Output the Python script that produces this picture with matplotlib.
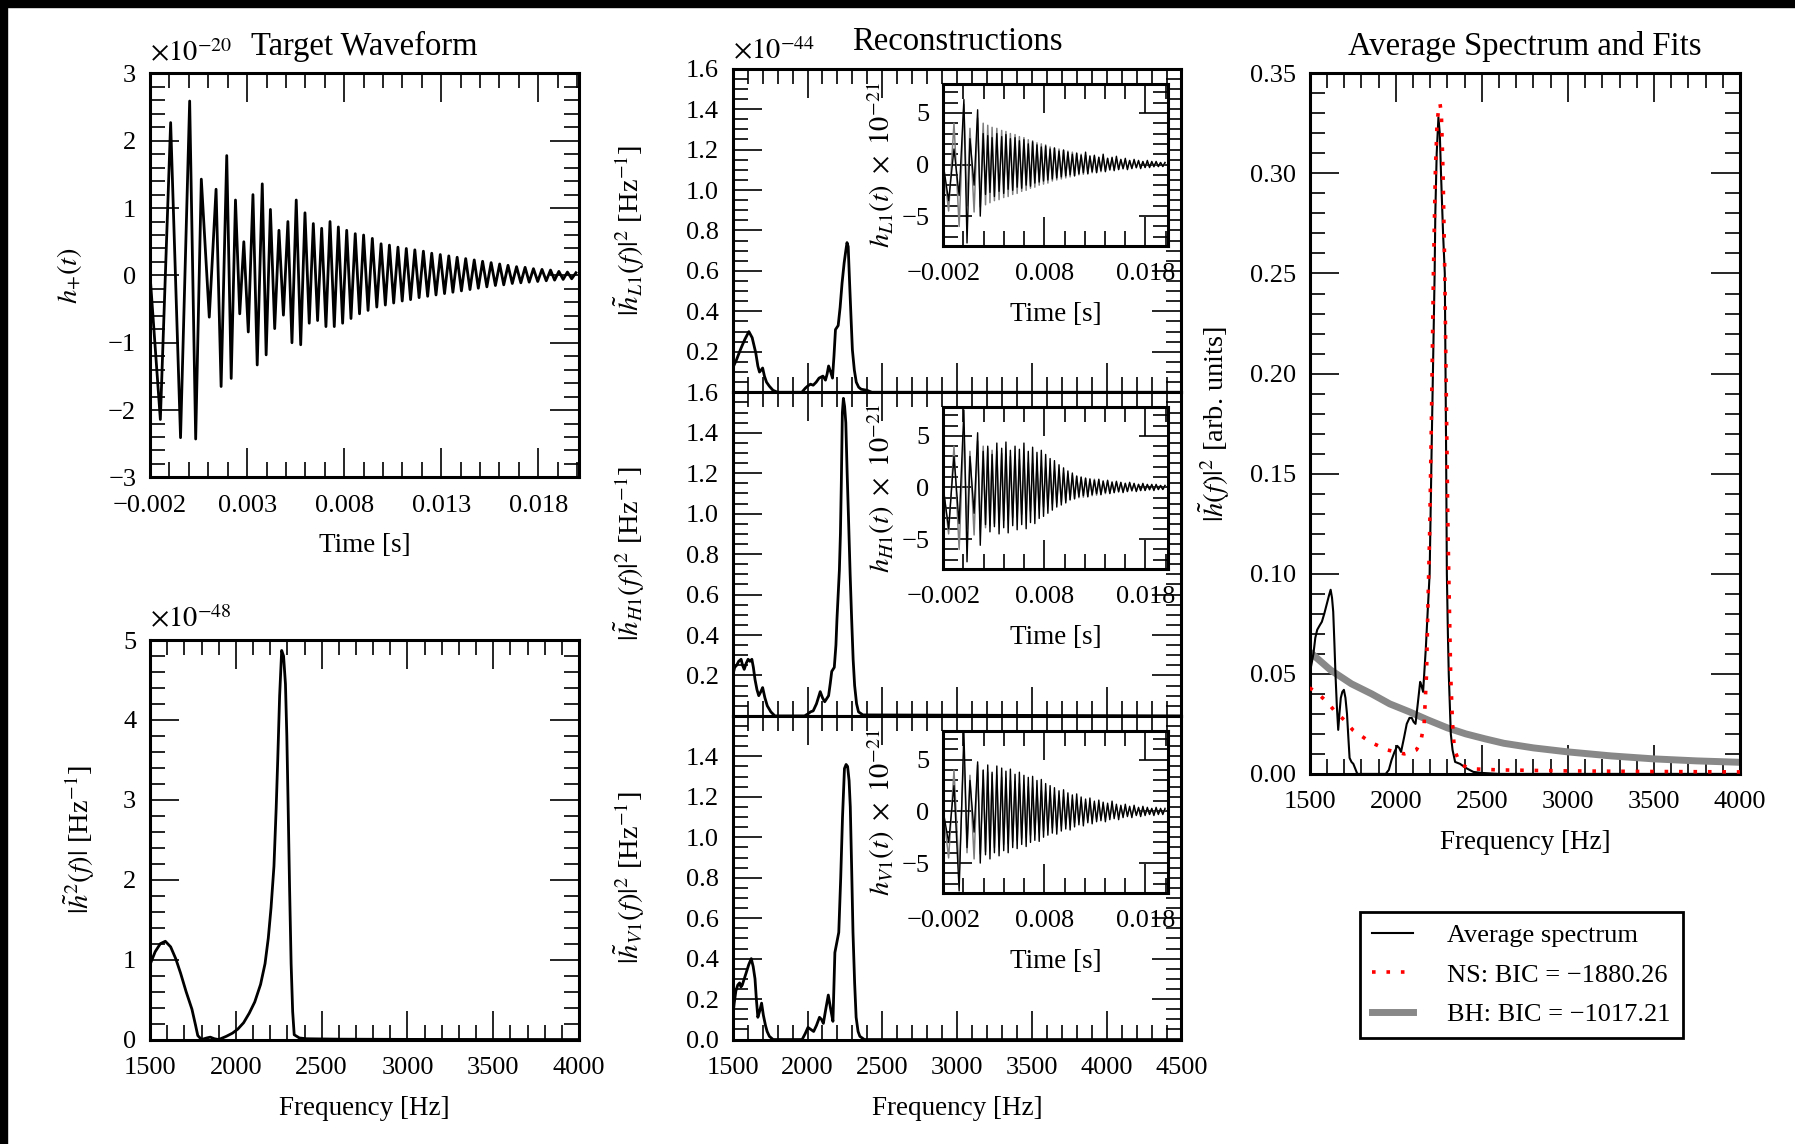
import numpy as np
import matplotlib
matplotlib.use("Agg")
import matplotlib.pyplot as plt
from matplotlib.ticker import MultipleLocator, FixedLocator, FuncFormatter
from matplotlib.patches import Rectangle
from matplotlib.lines import Line2D

plt.rcParams["font.family"] = "serif"
plt.rcParams["font.serif"] = ["Liberation Serif", "DejaVu Serif"]
plt.rcParams["mathtext.fontset"] = "stix"

# ---------------- data ----------------
# target waveform h+(t), units of 1e-20, given by its extrema
t_edge = [-0.0020]
h_edge = [0.0]
t_pk = [-0.00094, 0.00004, 0.00064, 0.00140, 0.00195, 0.00240, 0.00283, 0.00330, 0.00378, 0.00420,
        0.00464, 0.00510, 0.00553, 0.00598, 0.00641, 0.00684, 0.00727, 0.00770, 0.00813, 0.00857,
        0.00900, 0.00945, 0.00990, 0.01033, 0.01077, 0.01120, 0.01164, 0.01208, 0.01251, 0.01295,
        0.01339, 0.01382, 0.01426, 0.01470, 0.01513, 0.01557, 0.01601, 0.01644, 0.01688, 0.01732,
        0.01775, 0.01819, 0.01863, 0.01906, 0.01950, 0.01994]
a_pk = [2.27, 2.59, 1.43, 1.28, 1.78, 1.12, 0.50, 1.20, 1.36, 0.98,
        0.67, 0.80, 1.12, 0.93, 0.77, 0.70, 0.80, 0.72, 0.67, 0.62,
        0.60, 0.55, 0.47, 0.45, 0.42, 0.40, 0.38, 0.36, 0.33, 0.31,
        0.29, 0.27, 0.25, 0.23, 0.21, 0.19, 0.17, 0.15, 0.13, 0.12,
        0.10, 0.09, 0.08, 0.06, 0.05, 0.04]
t_tr = [-0.00147, -0.00043, 0.00035, 0.00105, 0.00166, 0.00218, 0.00262, 0.00306, 0.00352, 0.00398,
        0.00442, 0.00487, 0.00531, 0.00576, 0.00620, 0.00663, 0.00706, 0.00749, 0.00792, 0.00835,
        0.00879, 0.00923, 0.00968, 0.01012, 0.01055, 0.01099, 0.01142, 0.01186, 0.01230, 0.01273,
        0.01317, 0.01360, 0.01404, 0.01448, 0.01491, 0.01535, 0.01579, 0.01622, 0.01666, 0.01710,
        0.01753, 0.01797, 0.01841, 0.01884, 0.01928, 0.01972]
a_tr = [-2.14, -2.41, -2.43, -0.62, -1.65, -1.53, -0.57, -0.84, -1.33, -1.18,
        -0.79, -0.59, -1.00, -1.03, -0.71, -0.67, -0.76, -0.76, -0.71, -0.64,
        -0.57, -0.52, -0.47, -0.44, -0.41, -0.38, -0.36, -0.33, -0.31, -0.29,
        -0.27, -0.25, -0.23, -0.21, -0.19, -0.17, -0.15, -0.14, -0.12, -0.11,
        -0.10, -0.09, -0.08, -0.07, -0.06, -0.05]

# target spectrum, units of 1e-48
f_tgt = [1500, 1530, 1560, 1589, 1620, 1650, 1678, 1710, 1744, 1765, 1778, 1800, 1830, 1851, 1875,
         1900, 1944, 1980, 2011, 2045, 2078, 2110, 2144, 2170, 2189, 2205, 2222, 2235, 2244, 2255,
         2267, 2278, 2289, 2297, 2304, 2313, 2322, 2331, 2340, 2370, 2411, 2600, 3000, 3500, 4000]
p_tgt = [0.94, 1.10, 1.20, 1.23, 1.16, 1.01, 0.83, 0.60, 0.38, 0.18, 0.05, 0.00, 0.02, 0.03, 0.01,
         0.00, 0.04, 0.08, 0.13, 0.21, 0.33, 0.47, 0.69, 0.95, 1.27, 1.65, 2.17, 2.90, 3.50, 4.30,
         4.87, 4.80, 4.45, 3.80, 3.00, 1.90, 0.95, 0.35, 0.06, 0.02, 0.01, 0.005, 0.002, 0.001, 0.0]

# reconstructed spectra, units of 1e-44
f_l1 = [1500, 1525, 1551, 1580, 1608, 1630, 1654, 1668, 1679, 1690, 1700, 1712, 1726, 1745, 1769,
        1800, 1962, 1985, 2000, 2020, 2038, 2058, 2077, 2090, 2103, 2112, 2120, 2131, 2141, 2155,
        2167, 2177, 2187, 2205, 2218, 2231, 2245, 2256, 2264, 2272, 2282, 2292, 2300, 2313, 2326,
        2342, 2359, 2397, 2430, 4500]
p_l1 = [0.12, 0.16, 0.21, 0.26, 0.30, 0.27, 0.195, 0.13, 0.10, 0.11, 0.12, 0.08, 0.05, 0.03, 0.01,
        0.0, 0.0, 0.02, 0.03, 0.04, 0.035, 0.05, 0.07, 0.075, 0.08, 0.07, 0.06, 0.09, 0.13, 0.10,
        0.07, 0.18, 0.31, 0.33, 0.42, 0.54, 0.64, 0.70, 0.74, 0.72, 0.53, 0.35, 0.21, 0.11, 0.05,
        0.025, 0.015, 0.01, 0.0, 0.0]
f_h1 = [1500, 1513, 1526, 1540, 1556, 1566, 1577, 1590, 1603, 1615, 1628, 1638, 1649, 1662, 1674,
        1688, 1700, 1715, 1731, 1755, 1782, 1980, 2003, 2020, 2038, 2060, 2085, 2100, 2115, 2128,
        2141, 2152, 2162, 2179, 2190, 2197, 2205, 2213, 2220, 2226, 2233, 2240, 2248, 2256, 2265,
        2274, 2285, 2295, 2305, 2315, 2328, 2341, 2370, 4500]
p_h1 = [0.20, 0.24, 0.25, 0.27, 0.28, 0.25, 0.23, 0.26, 0.28, 0.27, 0.28, 0.24, 0.18, 0.13, 0.10,
        0.12, 0.14, 0.09, 0.05, 0.02, 0.0, 0.0, 0.01, 0.02, 0.025, 0.06, 0.12, 0.09, 0.07, 0.085,
        0.10, 0.16, 0.22, 0.24, 0.35, 0.48, 0.60, 0.72, 0.90, 1.15, 1.50, 1.57, 1.53, 1.45, 1.20,
        0.98, 0.70, 0.48, 0.28, 0.15, 0.06, 0.02, 0.005, 0.0]
f_v1 = [1500, 1510, 1521, 1534, 1546, 1555, 1564, 1577, 1590, 1607, 1624, 1637, 1649, 1658, 1668,
        1680, 1693, 1705, 1719, 1730, 1745, 1770, 1964, 1985, 2003, 2022, 2041, 2060, 2080, 2093,
        2106, 2122, 2139, 2155, 2170, 2183, 2196, 2209, 2222, 2234, 2247, 2258, 2268, 2278, 2286,
        2295, 2304, 2315, 2325, 2338, 2350, 2380, 4500]
p_v1 = [0.11, 0.18, 0.24, 0.27, 0.28, 0.26, 0.27, 0.30, 0.33, 0.37, 0.40, 0.36, 0.30, 0.20, 0.11,
        0.14, 0.18, 0.12, 0.07, 0.04, 0.016, 0.0, 0.0, 0.03, 0.06, 0.05, 0.04, 0.07, 0.11, 0.10,
        0.08, 0.15, 0.22, 0.15, 0.09, 0.43, 0.48, 0.53, 0.80, 1.10, 1.34, 1.36, 1.35, 1.28, 1.15,
        0.85, 0.53, 0.28, 0.11, 0.04, 0.016, 0.0, 0.0]

# reconstructed waveforms in the insets (units of 1e-21), extrema at the target's times
grey_pk = [4.0, 5.8, 3.5, 4.5, 4.0, 3.8, 3.6, 3.5, 3.3, 3.2,
           3.0, 2.9, 2.7, 2.6, 2.4, 2.3, 2.1, 2.0, 1.9, 1.7,
           1.6, 1.5, 1.4, 1.3, 1.2, 1.1, 1.0, 0.9, 0.85, 0.8,
           0.7, 0.65, 0.6, 0.55, 0.5, 0.45, 0.4, 0.37, 0.34, 0.3,
           0.27, 0.25, 0.22, 0.2, 0.18, 0.16]
grey_tr = [-4.5, -6.0, -4.0, -4.6, -4.1, -3.9, -3.7, -3.5, -3.4, -3.2,
           -3.1, -2.9, -2.8, -2.6, -2.5, -2.3, -2.2, -2.0, -1.9, -1.8,
           -1.6, -1.5, -1.4, -1.3, -1.2, -1.1, -1.0, -0.95, -0.9, -0.8,
           -0.75, -0.7, -0.6, -0.55, -0.5, -0.45, -0.42, -0.38, -0.35, -0.32,
           -0.3, -0.27, -0.24, -0.22, -0.2, -0.18]
l1_pk = [1.5, 6.3, 2.5, 5.3, 3.0, 2.8, 2.6, 3.0, 2.7, 2.9,
         2.5, 2.6, 2.3, 2.4, 2.0, 2.2, 1.9, 1.7, 1.8, 1.5,
         1.6, 1.3, 1.4, 1.2, 1.0, 1.1, 0.9, 1.2, 0.8, 0.9,
         0.7, 1.0, 0.6, 0.7, 0.8, 0.5, 0.6, 0.4, 0.5, 0.4,
         0.3, 0.4, 0.3, 0.3, 0.2, 0.2]
l1_tr = [-3.5, -3.0, -7.6, -2.0, -5.0, -2.9, -2.7, -3.1, -2.6, -2.8,
         -2.4, -2.5, -2.2, -2.3, -2.0, -2.1, -1.8, -1.7, -1.6, -1.5,
         -1.4, -1.3, -1.2, -1.1, -1.0, -1.1, -0.9, -0.8, -0.9, -0.7,
         -0.8, -0.6, -0.7, -0.5, -0.6, -0.5, -0.4, -0.5, -0.4, -0.3,
         -0.4, -0.3, -0.3, -0.2, -0.2, -0.2]
h1_pk = [3.0, 7.5, 3.0, 5.3, 3.5, 4.0, 3.2, 4.3, 3.8, 4.4,
         3.6, 4.0, 3.7, 4.3, 3.5, 3.9, 3.4, 3.6, 3.2, 2.8,
         2.6, 2.2, 1.9, 1.6, 1.4, 1.1, 1.0, 0.9, 0.8, 0.7,
         0.8, 0.6, 0.7, 0.5, 0.6, 0.5, 0.4, 0.5, 0.4, 0.3,
         0.4, 0.3, 0.3, 0.3, 0.2, 0.2]
h1_tr = [-4.0, -3.5, -7.2, -2.5, -5.6, -3.6, -4.3, -3.8, -4.5, -3.9,
         -4.4, -3.7, -4.1, -3.6, -4.0, -3.4, -3.5, -3.0, -2.8, -2.5,
         -2.2, -1.9, -1.7, -1.5, -1.2, -1.1, -0.9, -0.8, -0.9, -0.7,
         -0.6, -0.7, -0.5, -0.6, -0.5, -0.4, -0.5, -0.4, -0.3, -0.4,
         -0.3, -0.3, -0.2, -0.3, -0.2, -0.2]
v1_pk = [2.5, 7.7, 3.0, 4.8, 4.0, 4.5, 3.8, 4.4, 4.2, 3.9,
         4.1, 3.6, 3.8, 3.5, 3.3, 3.4, 3.0, 3.1, 2.7, 2.5,
         2.3, 2.0, 2.1, 1.8, 1.6, 1.7, 1.4, 1.2, 1.3, 1.0,
         1.1, 0.9, 0.8, 1.0, 0.7, 0.6, 0.7, 0.5, 0.6, 0.4,
         0.5, 0.4, 0.3, 0.4, 0.3, 0.3]
v1_tr = [-3.0, -7.7, -3.5, -2.0, -5.0, -4.2, -4.6, -4.0, -4.3, -3.8,
         -4.0, -3.5, -3.6, -3.2, -3.4, -3.0, -2.8, -2.9, -2.5, -2.3,
         -2.1, -2.2, -1.9, -1.7, -1.8, -1.5, -1.3, -1.4, -1.1, -1.2,
         -1.0, -0.9, -1.0, -0.8, -0.7, -0.8, -0.6, -0.5, -0.6, -0.4,
         -0.5, -0.4, -0.3, -0.4, -0.3, -0.3]

# average spectrum and fits (arb. units)
f_avg = [1500, 1511, 1522, 1533, 1544, 1557, 1571, 1585, 1600, 1612, 1622, 1630, 1637, 1644, 1650,
         1658, 1666, 1673, 1681, 1690, 1699, 1708, 1717, 1725, 1732, 1743, 1754, 1777, 1942, 1960,
         1976, 1993, 2009, 2020, 2031, 2048, 2064, 2080, 2093, 2104, 2115, 2128, 2142, 2150, 2159,
         2167, 2175, 2185, 2197, 2210, 2220, 2226, 2230, 2238, 2248, 2256, 2263, 2275, 2285, 2292,
         2297, 2303, 2308, 2320, 2330, 2345, 2374, 2407, 2451, 2500, 2600, 4000]
p_avg = [0.050, 0.055, 0.060, 0.068, 0.072, 0.074, 0.076, 0.080, 0.085, 0.089, 0.092, 0.088, 0.081, 0.065, 0.050,
         0.034, 0.022, 0.030, 0.038, 0.041, 0.042, 0.038, 0.030, 0.018, 0.008, 0.006, 0.005, 0.0, 0.0, 0.002,
         0.007, 0.011, 0.014, 0.013, 0.011, 0.018, 0.025, 0.028, 0.028, 0.026, 0.025, 0.035, 0.046, 0.044, 0.041,
         0.052, 0.063, 0.080, 0.100, 0.170, 0.220, 0.250, 0.280, 0.310, 0.328, 0.320, 0.300, 0.270, 0.250, 0.170,
         0.100, 0.070, 0.050, 0.020, 0.012, 0.006, 0.005, 0.003, 0.001, 0.0005, 0.0, 0.0]
f_ns = [1500, 1550, 1600, 1650, 1700, 1750, 1800, 1850, 1900, 1950, 2000, 2050, 2090, 2120, 2145,
        2165, 2179, 2186, 2197, 2208, 2219, 2230, 2240, 2250, 2257, 2265, 2275, 2285, 2295, 2302,
        2308, 2319, 2330, 2341, 2360, 2374, 2420, 2451, 2600, 3000, 3500, 4000]
p_ns = [0.043, 0.040, 0.036, 0.031, 0.027, 0.022, 0.019, 0.016, 0.014, 0.012, 0.011, 0.010, 0.011, 0.012, 0.016,
        0.025, 0.050, 0.080, 0.120, 0.180, 0.250, 0.300, 0.325, 0.333, 0.335, 0.330, 0.300, 0.250, 0.180, 0.130,
        0.100, 0.050, 0.025, 0.012, 0.008, 0.005, 0.003, 0.0025, 0.002, 0.0015, 0.0012, 0.001]
f_bh = [1500, 1620, 1743, 1860, 1965, 2080, 2186, 2300, 2407, 2520, 2628, 2800, 3000, 3250, 3500, 3750, 4000]
p_bh = [0.061, 0.052, 0.045, 0.040, 0.035, 0.031, 0.027, 0.023, 0.020, 0.0175, 0.0153, 0.013, 0.011, 0.009,
        0.0075, 0.0065, 0.0058]

legend_labels = ["Average spectrum", "NS: BIC = \u22121880.26", "BH: BIC = \u22121017.21"]


def join_extrema(pk, tr):
    t = np.concatenate([t_edge, t_pk, t_tr])
    h = np.concatenate([h_edge, pk, tr])
    order = np.argsort(t)
    return t[order], h[order]


def fmt(nd, hide=()):
    def f(v, pos):
        if abs(v) < 1e-12:
            v = 0.0
        s = f"{v:.{nd}f}"
        if s in hide:
            return ""
        return s.replace("-", "\u2212")
    return FuncFormatter(f)


def style(ax, xmaj, xmin, ymaj, ymin, lab=19):
    ax.xaxis.set_major_locator(xmaj)
    ax.xaxis.set_minor_locator(xmin)
    ax.yaxis.set_major_locator(ymaj)
    ax.yaxis.set_minor_locator(ymin)
    ax.tick_params(which="both", direction="in", top=True, right=True, labelsize=lab, width=1.2)
    ax.tick_params(which="major", length=21)
    ax.tick_params(which="minor", length=10.5)
    ax.tick_params(axis="x", pad=12.5)
    ax.tick_params(axis="y", pad=10)
    for s in ax.spines.values():
        s.set_linewidth(2.2)


LAB = 20.5  # axis label size

fig = plt.figure(figsize=(17.95, 11.44), dpi=100)

# -------- Target waveform --------
ax_t = fig.add_axes([0.0836, 0.5827, 0.2390, 0.3531])
tt, hh = join_extrema(a_pk, a_tr)
ax_t.plot(tt, hh, color="black", lw=2.0)
ax_t.set_xlim(-0.002, 0.0201)
ax_t.set_ylim(-3, 3)
style(ax_t, FixedLocator([-0.002, 0.003, 0.008, 0.013, 0.018]), MultipleLocator(0.001),
      MultipleLocator(1), MultipleLocator(0.2))
ax_t.xaxis.set_major_formatter(fmt(3))
ax_t.yaxis.set_major_formatter(fmt(0))
ax_t.set_xlabel("Time [s]", fontsize=19.5, labelpad=12)
ax_t.set_ylabel(r"$h_{+}(t)$", fontsize=LAB)
ax_t.yaxis.set_label_coords(-0.154, 0.5)
ax_t.text(0.0, 1.03, r"$\times10^{-20}$", transform=ax_t.transAxes, fontsize=20.5, va="baseline")
fig.text(0.2031, 0.9519, "Target Waveform", ha="center", va="baseline", fontsize=23.5)

# -------- Target spectrum --------
ax_s = fig.add_axes([0.0836, 0.0913, 0.2390, 0.3492])
ax_s.plot(f_tgt, p_tgt, color="black", lw=2.0)
ax_s.set_xlim(1500, 4000)
ax_s.set_ylim(0, 5)
style(ax_s, MultipleLocator(500), MultipleLocator(100), MultipleLocator(1), MultipleLocator(0.2))
ax_s.xaxis.set_major_formatter(fmt(0))
ax_s.yaxis.set_major_formatter(fmt(0))
ax_s.set_xlabel("Frequency [Hz]", fontsize=19.5, labelpad=12)
ax_s.set_ylabel(r"$|\tilde{h}^2(f)|$ [Hz$^{-1}$]", fontsize=LAB)
ax_s.yaxis.set_label_coords(-0.124, 0.5)
ax_s.text(0.0, 1.033, r"$\times10^{-48}$", transform=ax_s.transAxes, fontsize=20.5, va="baseline")

# -------- Reconstructions --------
spectra = [(f_l1, p_l1, "L1", l1_pk, l1_tr), (f_h1, p_h1, "H1", h1_pk, h1_tr), (f_v1, p_v1, "V1", v1_pk, v1_tr)]
bottoms = [0.6571, 0.3742, 0.0913]
inset_bottoms = [0.7849, 0.5026, 0.2194]
for i, (f, p, det, bpk, btr) in enumerate(spectra):
    ax = fig.add_axes([0.4082, bottoms[i], 0.2500, 0.2829])
    ax.plot(f, p, color="black", lw=2.0)
    ax.set_xlim(1500, 4500)
    ax.set_ylim(0, 1.6)
    style(ax, MultipleLocator(500), MultipleLocator(100), MultipleLocator(0.2), MultipleLocator(0.05))
    ax.xaxis.set_major_formatter(fmt(0))
    hide = ("0.0",) if i < 2 else ("1.6",)
    ax.yaxis.set_major_formatter(fmt(1, hide))
    if i < 2:
        ax.tick_params(axis="x", labelbottom=False)
    else:
        ax.set_xlabel("Frequency [Hz]", fontsize=19.5, labelpad=12)
    ax.set_ylabel(r"$|\tilde{h}_{%s}(f)|^2$ [Hz$^{-1}$]" % det, fontsize=LAB)
    ax.yaxis.set_label_coords(-0.19, 0.5)
    if i == 0:
        ax.text(0.0, 1.028, r"$\times10^{-44}$", transform=ax.transAxes, fontsize=20.5, va="baseline")

    axi = fig.add_axes([0.5255, inset_bottoms[i], 0.1250, 0.1417])
    tg, hg = join_extrema(grey_pk, grey_tr)
    tb, hb = join_extrema(bpk, btr)
    axi.plot(tg, hg, color="0.5", lw=1.1)
    axi.plot(tb, hb, color="black", lw=1.0)
    axi.set_xlim(-0.002, 0.0202)
    axi.set_ylim(-7.9, 7.8)
    style(axi, FixedLocator([-0.002, 0.008, 0.018]), MultipleLocator(0.002),
          FixedLocator([-5, 0, 5]), MultipleLocator(1))
    axi.xaxis.set_major_formatter(fmt(3))
    axi.yaxis.set_major_formatter(fmt(0))
    axi.set_xlabel("Time [s]", fontsize=19.5, labelpad=12)
    axi.set_ylabel(r"$h_{%s}(t)\ \times\ 10^{-21}$" % det, fontsize=LAB)
    axi.yaxis.set_label_coords(-0.205, 0.5)

fig.text(0.5332, 0.9563, "Reconstructions", ha="center", va="baseline", fontsize=23.5)

# -------- Average spectrum and fits --------
ax_r = fig.add_axes([0.7296, 0.3235, 0.2398, 0.6124])
ax_r.plot(f_bh, p_bh, color="#888888", lw=5, solid_capstyle="butt", zorder=2)
ax_r.plot(f_avg, p_avg, color="black", lw=1.5, zorder=3)
ax_r.plot(f_ns, p_ns, color="red", lw=2.6, linestyle=(0, (1, 3)), zorder=4)
ax_r.set_xlim(1500, 4000)
ax_r.set_ylim(0, 0.35)
style(ax_r, MultipleLocator(500), MultipleLocator(100), MultipleLocator(0.05), MultipleLocator(0.01))
ax_r.xaxis.set_major_formatter(fmt(0))
ax_r.yaxis.set_major_formatter(fmt(2))
ax_r.set_xlabel("Frequency [Hz]", fontsize=19.5, labelpad=12)
ax_r.set_ylabel(r"$|\tilde{h}(f)|^2$ [arb. units]", fontsize=LAB)
ax_r.yaxis.set_label_coords(-0.18, 0.5)
fig.text(0.8495, 0.9519, "Average Spectrum and Fits", ha="center", va="baseline", fontsize=23.5)

handles = [Line2D([], [], color="black", lw=1.5),
           Line2D([], [], color="red", lw=2.6, linestyle=(0, (1, 3))),
           Line2D([], [], color="#888888", lw=5)]
leg = fig.legend(handles, legend_labels, loc="upper left", bbox_to_anchor=(0.7577, 0.2028),
                 borderaxespad=0, fancybox=False, framealpha=1, edgecolor="black", fontsize=19,
                 handlelength=1.55, handletextpad=1.3, labelspacing=0.6, borderpad=0.45)
leg.get_frame().set_linewidth(2.0)

# black strips along the top and left edges
fig.add_artist(Rectangle((0, 1 - 7 / 1144), 1, 7 / 1144, transform=fig.transFigure,
                         color="black", zorder=10))
fig.add_artist(Rectangle((0, 0), 7 / 1795, 1, transform=fig.transFigure, color="black", zorder=10))

fig.savefig("out.png", dpi=100)
